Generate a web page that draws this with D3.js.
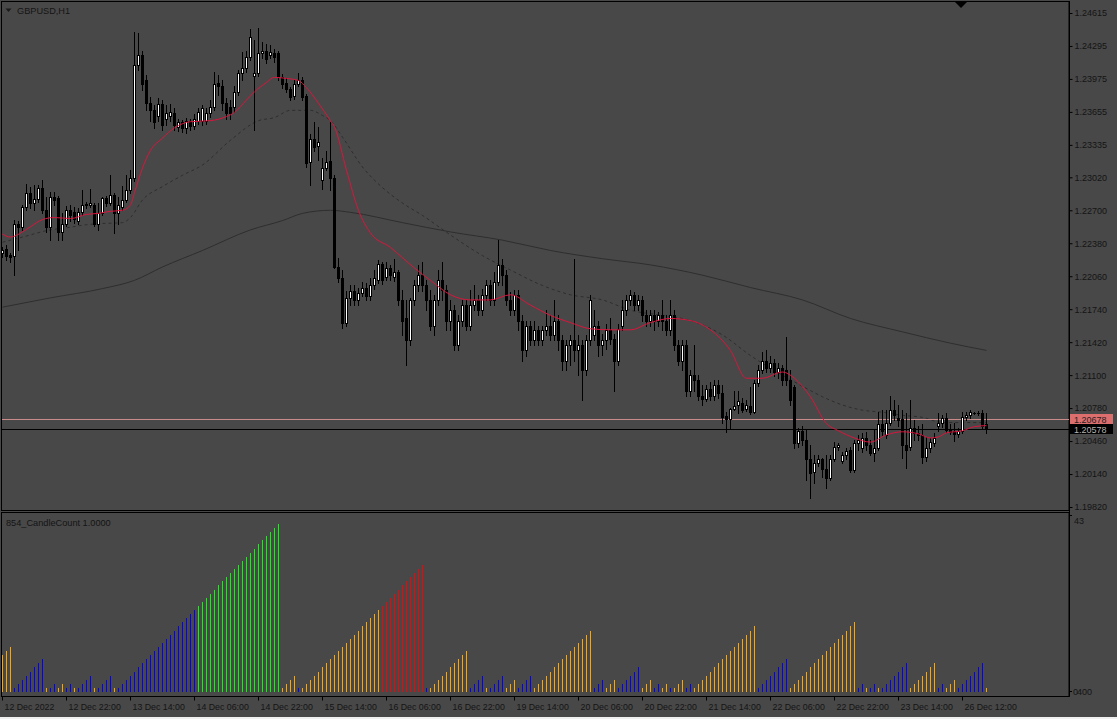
<!DOCTYPE html>
<html><head><meta charset="utf-8">
<script src="https://cdn.jsdelivr.net/npm/d3@7"></script>
<style>html,body{margin:0;padding:0;background:#484848;overflow:hidden}svg{display:block}</style>
</head><body>
<svg id="c" width="1117" height="719"></svg>
<script>
const symbolTitle = "GBPUSD,H1";
const indicatorTitle = "854_CandleCount 1.0000";
const priceTicks = [1.24615,1.24295,1.23975,1.23655,1.23335,1.23020,1.22700,1.22380,1.22060,1.21740,1.21420,1.21100,1.20780,1.20460,1.20140,1.19820];
const timeLabels = ["12 Dec 2022","12 Dec 22:00","13 Dec 14:00","14 Dec 06:00","14 Dec 22:00","15 Dec 14:00","16 Dec 06:00","16 Dec 22:00","19 Dec 14:00","20 Dec 06:00","20 Dec 22:00","21 Dec 14:00","22 Dec 06:00","22 Dec 22:00","23 Dec 14:00","26 Dec 12:00"];
const timeLabelBars = [0,16,32,48,64,80,96,112,128,144,160,176,192,208,224,240];
const bidPrice = 1.20578;
const markPrice = 1.20678;
const indicatorMax = 43;

// [open, high, low, close]
const candles = [
[1.2229,1.2234,1.2225,1.2231],[1.2232,1.2236,1.2222,1.2226],[1.2227,1.2229,1.2220,1.2225],[1.2226,1.2261,1.2207,1.2257],
[1.2257,1.2260,1.2231,1.2254],[1.2254,1.2275,1.2251,1.2273],[1.2273,1.2296,1.2270,1.2287],[1.2287,1.2293,1.2272,1.2277],
[1.2277,1.2295,1.2270,1.2281],[1.2281,1.2295,1.2278,1.2292],[1.2292,1.2299,1.2267,1.2270],[1.2270,1.2283,1.2249,1.2254],
[1.2254,1.2288,1.2241,1.2283],[1.2283,1.2288,1.2275,1.2280],[1.2282,1.2284,1.2241,1.2249],[1.2249,1.2267,1.2241,1.2257],
[1.2257,1.2274,1.2255,1.2270],[1.2270,1.2275,1.2260,1.2265],[1.2268,1.2273,1.2258,1.2262],[1.2260,1.2272,1.2257,1.2268],
[1.2268,1.2290,1.2265,1.2275],[1.2276,1.2278,1.2272,1.2275],[1.2275,1.2291,1.2273,1.2277],[1.2275,1.2277,1.2255,1.2257],
[1.2257,1.2277,1.2251,1.2267],[1.2267,1.2283,1.2265,1.2282],[1.2282,1.2284,1.2274,1.2277],[1.2277,1.2304,1.2275,1.2285],
[1.2285,1.2287,1.2248,1.2267],[1.2267,1.2283,1.2257,1.2275],[1.2273,1.2294,1.2270,1.2280],[1.2280,1.2304,1.2278,1.2290],
[1.2290,1.2309,1.2287,1.2301],[1.2301,1.2443,1.2298,1.2411],[1.2411,1.2442,1.2406,1.2421],[1.2421,1.2425,1.2387,1.2393],
[1.2396,1.2401,1.2367,1.2374],[1.2374,1.2380,1.2357,1.2367],[1.2367,1.2372,1.2350,1.2356],[1.2362,1.2379,1.2357,1.2373],
[1.2373,1.2377,1.2348,1.2353],[1.2359,1.2372,1.2353,1.2364],[1.2362,1.2373,1.2357,1.2365],[1.2364,1.2369,1.2348,1.2353],
[1.2351,1.2359,1.2347,1.2356],[1.2356,1.2358,1.2346,1.2350],[1.2350,1.2360,1.2345,1.2357],[1.2357,1.2359,1.2348,1.2352],
[1.2352,1.2363,1.2349,1.2359],[1.2357,1.2369,1.2354,1.2365],[1.2357,1.2372,1.2353,1.2369],[1.2357,1.2369,1.2354,1.2364],
[1.2364,1.2377,1.2361,1.2370],[1.2370,1.2404,1.2367,1.2393],[1.2394,1.2401,1.2382,1.2391],[1.2391,1.2396,1.2367,1.2374],
[1.2374,1.2379,1.2359,1.2364],[1.2370,1.2377,1.2359,1.2364],[1.2370,1.2391,1.2365,1.2385],[1.2385,1.2406,1.2382,1.2403],
[1.2403,1.2424,1.2396,1.2408],[1.2408,1.2425,1.2404,1.2419],[1.2419,1.2446,1.2416,1.2438],[1.2400,1.2435,1.2348,1.2403],
[1.2403,1.2447,1.2400,1.2423],[1.2423,1.2433,1.2418,1.2425],[1.2425,1.2431,1.2413,1.2417],[1.2421,1.2430,1.2418,1.2424],
[1.2423,1.2427,1.2414,1.2419],[1.2423,1.2425,1.2396,1.2399],[1.2399,1.2402,1.2389,1.2393],[1.2394,1.2398,1.2385,1.2388],
[1.2388,1.2390,1.2377,1.2380],[1.2381,1.2396,1.2378,1.2393],[1.2393,1.2403,1.2391,1.2396],[1.2396,1.2399,1.2377,1.2380],
[1.2381,1.2383,1.2312,1.2316],[1.2317,1.2344,1.2295,1.2339],[1.2339,1.2356,1.2328,1.2331],[1.2332,1.2351,1.2319,1.2336],
[1.2299,1.2321,1.2291,1.2311],[1.2311,1.2328,1.2309,1.2317],[1.2318,1.2356,1.2290,1.2301],[1.2301,1.2304,1.2214,1.2215],
[1.2215,1.2224,1.2200,1.2204],[1.2204,1.2212,1.2156,1.2161],[1.2161,1.2192,1.2158,1.2185],[1.2185,1.2197,1.2178,1.2192],
[1.2192,1.2197,1.2178,1.2183],[1.2183,1.2195,1.2178,1.2190],[1.2190,1.2200,1.2187,1.2195],[1.2195,1.2199,1.2183,1.2187],
[1.2187,1.2204,1.2183,1.2197],[1.2197,1.2212,1.2194,1.2204],[1.2202,1.2222,1.2199,1.2218],[1.2218,1.2220,1.2198,1.2202],
[1.2205,1.2220,1.2202,1.2214],[1.2214,1.2217,1.2202,1.2207],[1.2205,1.2223,1.2201,1.2210],[1.2210,1.2212,1.2178,1.2183],
[1.2183,1.2193,1.2149,1.2163],[1.2165,1.2183,1.2120,1.2144],[1.2144,1.2185,1.2139,1.2183],[1.2183,1.2202,1.2178,1.2197],
[1.2197,1.2217,1.2192,1.2207],[1.2207,1.2220,1.2192,1.2197],[1.2197,1.2202,1.2173,1.2183],[1.2183,1.2193,1.2154,1.2158],
[1.2158,1.2188,1.2149,1.2183],[1.2183,1.2212,1.2178,1.2202],[1.2202,1.2220,1.2183,1.2193],[1.2193,1.2197,1.2154,1.2163],
[1.2163,1.2183,1.2154,1.2173],[1.2173,1.2178,1.2134,1.2139],[1.2139,1.2168,1.2134,1.2163],[1.2163,1.2183,1.2158,1.2178],
[1.2178,1.2183,1.2154,1.2158],[1.2158,1.2193,1.2154,1.2178],[1.2178,1.2197,1.2173,1.2183],[1.2183,1.2188,1.2168,1.2173],
[1.2173,1.2194,1.2168,1.2188],[1.2188,1.2202,1.2183,1.2197],[1.2197,1.2202,1.2178,1.2183],[1.2183,1.2210,1.2178,1.2200],
[1.2200,1.2241,1.2197,1.2217],[1.2217,1.2223,1.2197,1.2207],[1.2207,1.2212,1.2178,1.2183],[1.2183,1.2191,1.2168,1.2173],
[1.2173,1.2193,1.2168,1.2188],[1.2188,1.2193,1.2154,1.2163],[1.2163,1.2168,1.2124,1.2134],[1.2134,1.2163,1.2129,1.2158],
[1.2158,1.2163,1.2139,1.2144],[1.2144,1.2163,1.2139,1.2154],[1.2154,1.2158,1.2139,1.2144],[1.2144,1.2158,1.2139,1.2154],
[1.2154,1.2173,1.2149,1.2158],[1.2158,1.2168,1.2144,1.2149],[1.2149,1.2183,1.2144,1.2163],[1.2163,1.2168,1.2134,1.2144],
[1.2144,1.2149,1.2115,1.2124],[1.2124,1.2144,1.2115,1.2139],[1.2139,1.2149,1.2120,1.2144],[1.2144,1.2223,1.2124,1.2134],
[1.2134,1.2149,1.2110,1.2139],[1.2139,1.2144,1.2086,1.2115],[1.2115,1.2149,1.2110,1.2144],[1.2144,1.2188,1.2139,1.2183],
[1.2149,1.2173,1.2144,1.2158],[1.2158,1.2163,1.2129,1.2139],[1.2139,1.2150,1.2130,1.2144],[1.2144,1.2160,1.2135,1.2154],
[1.2154,1.2165,1.2140,1.2145],[1.2145,1.2150,1.2095,1.2124],[1.2124,1.2160,1.2120,1.2155],[1.2158,1.2183,1.2154,1.2173],
[1.2173,1.2188,1.2168,1.2183],[1.2183,1.2193,1.2178,1.2188],[1.2188,1.2191,1.2173,1.2178],[1.2178,1.2188,1.2173,1.2183],
[1.2183,1.2187,1.2163,1.2168],[1.2168,1.2173,1.2158,1.2163],[1.2163,1.2173,1.2158,1.2168],[1.2168,1.2173,1.2154,1.2163],
[1.2163,1.2171,1.2158,1.2168],[1.2168,1.2183,1.2154,1.2163],[1.2163,1.2168,1.2149,1.2154],[1.2154,1.2183,1.2149,1.2168],
[1.2168,1.2173,1.2134,1.2139],[1.2139,1.2144,1.2120,1.2124],[1.2124,1.2144,1.2115,1.2139],[1.2139,1.2144,1.2090,1.2095],
[1.2095,1.2115,1.2090,1.2110],[1.2110,1.2139,1.2095,1.2105],[1.2105,1.2110,1.2086,1.2090],[1.2090,1.2100,1.2081,1.2087],
[1.2087,1.2100,1.2085,1.2097],[1.2097,1.2103,1.2086,1.2090],[1.2090,1.2105,1.2086,1.2100],[1.2100,1.2105,1.2088,1.2093],
[1.2093,1.2100,1.2064,1.2069],[1.2070,1.2074,1.2055,1.2067],[1.2067,1.2078,1.2058,1.2077],[1.2077,1.2095,1.2076,1.2080],
[1.2081,1.2095,1.2073,1.2085],[1.2083,1.2088,1.2074,1.2076],[1.2077,1.2086,1.2075,1.2081],[1.2080,1.2098,1.2072,1.2074],
[1.2074,1.2105,1.2073,1.2102],[1.2102,1.2120,1.2099,1.2115],[1.2115,1.2132,1.2112,1.2124],[1.2124,1.2134,1.2113,1.2117],
[1.2117,1.2129,1.2113,1.2122],[1.2122,1.2126,1.2109,1.2113],[1.2113,1.2122,1.2107,1.2117],[1.2117,1.2120,1.2100,1.2105],
[1.2115,1.2147,1.2100,1.2105],[1.2105,1.2115,1.2081,1.2086],[1.2098,1.2100,1.2039,1.2044],[1.2044,1.2059,1.2040,1.2056],
[1.2056,1.2061,1.2042,1.2047],[1.2047,1.2058,1.2008,1.2029],[1.2029,1.2042,1.1991,1.2015],[1.2016,1.2032,1.2005,1.2025],
[1.2025,1.2032,1.2022,1.2029],[1.2029,1.2030,1.2011,1.2019],[1.2019,1.2032,1.2000,1.2010],[1.2010,1.2032,1.2008,1.2029],
[1.2029,1.2045,1.2027,1.2040],[1.2040,1.2044,1.2037,1.2042],[1.2027,1.2035,1.2025,1.2032],[1.2032,1.2039,1.2029,1.2036],
[1.2037,1.2040,1.2016,1.2018],[1.2018,1.2047,1.2016,1.2044],[1.2044,1.2052,1.2037,1.2047],[1.2039,1.2054,1.2035,1.2049],
[1.2049,1.2055,1.2037,1.2042],[1.2042,1.2047,1.2032,1.2034],[1.2034,1.2057,1.2027,1.2039],[1.2039,1.2074,1.2037,1.2063],
[1.2063,1.2076,1.2052,1.2056],[1.2052,1.2076,1.2049,1.2064],[1.2064,1.2090,1.2062,1.2076],[1.2076,1.2086,1.2066,1.2071],
[1.2068,1.2081,1.2061,1.2066],[1.2067,1.2076,1.2030,1.2042],[1.2042,1.2073,1.2020,1.2037],[1.2040,1.2086,1.2037,1.2059],
[1.2059,1.2066,1.2047,1.2054],[1.2054,1.2061,1.2047,1.2052],[1.2052,1.2063,1.2025,1.2031],[1.2031,1.2050,1.2027,1.2039],
[1.2039,1.2049,1.2035,1.2045],[1.2044,1.2054,1.2041,1.2049],[1.2061,1.2073,1.2056,1.2064],[1.2064,1.2071,1.2060,1.2068],
[1.2068,1.2073,1.2055,1.2057],[1.2057,1.2063,1.2053,1.2055],[1.2056,1.2064,1.2046,1.2053],[1.2053,1.2059,1.2050,1.2056],
[1.2056,1.2074,1.2054,1.2069],[1.2069,1.2074,1.2066,1.2071],[1.2071,1.2076,1.2068,1.2074],[1.2073,1.2074,1.2072,1.2073],
[1.2073,1.2075,1.2071,1.2073],[1.2073,1.2076,1.2058,1.2061],[1.2063,1.2073,1.2054,1.2058]
];

// signed consecutive-candle count: + above average (blue/green), - below (orange/red)
const candleCount = [
-9,-10,-11,1,2,3,4,5,6,7,8,-1,1,2,-1,-2,1,2,-1,1,2,3,4,-1,1,2,3,4,-1,
1,2,3,4,5,6,7,8,9,10,11,12,13,14,15,16,17,18,19,20,21,22,23,24,25,26,27,28,29,30,31,32,33,34,35,36,37,38,39,40,41,
-1,-2,-3,-4,1,
-1,-2,-3,-4,-5,-6,-7,-8,-9,-10,-11,-12,-13,-14,-15,-16,-17,-18,-19,-20,-21,-22,-23,-24,-25,-26,-27,-28,-29,-30,-31,
1,-1,-2,-3,-4,-5,-6,-7,-8,-9,-10,1,2,3,4,-1,1,2,3,4,-1,-2,-3,1,2,3,4,
-1,-2,-3,-4,-5,-6,-7,-8,-9,-10,-11,-12,-13,-14,-15,1,2,3,-1,-2,-3,1,2,3,4,5,6,
-1,-2,-3,1,2,-1,-2,1,-1,-2,-3,1,2,
-1,-2,-3,-4,-5,-6,-7,-8,-9,-10,-11,-12,-13,-14,-15,-16,1,2,3,4,5,6,7,8,
-1,-2,-3,-4,-5,-6,-7,-8,-9,-10,-11,-12,-13,-14,-15,-16,-17,1,2,-1,1,2,-1,1,2,3,4,5,6,7,
-1,-2,-3,-4,-5,-6,-7,1,2,-1,-2,-3,1,2,3,4,5,6,7,-1
];

// moving averages: [bar index, price]
const maFast = [[0,1.2247],[2,1.2244],[5,1.2249],[7,1.2254],[10,1.2261],[13,1.2263],[17,1.2262],[21,1.2266],[24,1.2267],[27,1.2269],[30,1.2270],[32,1.2275],[33,1.2287],[35,1.2311],[37,1.2328],[40,1.2340],[43,1.2350],[47,1.2356],[52,1.2357],[56,1.2361],[58,1.2365],[61,1.2377],[63,1.2385],[66,1.2394],[68,1.2399],[71,1.2398],[74,1.2396],[76,1.2389],[79,1.2374],[82,1.2357],[83,1.2351],[86,1.2309],[89,1.2270],[92,1.2248],[97,1.2234],[100,1.2224],[103,1.2214],[107,1.2202],[112,1.2188],[117,1.2183],[122,1.2183],[127,1.2188],[132,1.2178],[137,1.2168],[142,1.2161],[147,1.2155],[152,1.2154],[157,1.2154],[162,1.2161],[167,1.2165],[172,1.2163],[177,1.2154],[182,1.2134],[186,1.2107],[190,1.2107],[195,1.2113],[198,1.2107],[202,1.2089],[206,1.2063],[209,1.2056],[213,1.2049],[217,1.2045],[221,1.2052],[225,1.2055],[229,1.2053],[232,1.2049],[234,1.2050],[236,1.2054],[240,1.2056],[243,1.2060],[246,1.2061]];
const maMid = [[0,1.2239],[5,1.2244],[12,1.2251],[16,1.2253],[21,1.2256],[24,1.2257],[30,1.2258],[32,1.2263],[35,1.2280],[40,1.2293],[45,1.2304],[50,1.2314],[57,1.2338],[64,1.2357],[68,1.2360],[72,1.2367],[75,1.2367],[77,1.2367],[80,1.2362],[82,1.2357],[85,1.2341],[90,1.2312],[95,1.2292],[100,1.2277],[105,1.2265],[112,1.2246],[120,1.2226],[127,1.2212],[135,1.2197],[142,1.2188],[150,1.2183],[157,1.2173],[165,1.2168],[172,1.2163],[180,1.2149],[187,1.2129],[195,1.2110],[202,1.2095],[205,1.2089],[210,1.2081],[215,1.2076],[220,1.2074],[225,1.2071],[230,1.2069],[235,1.2064],[246,1.2064]];
const maSlow = [[0,1.2176],[12,1.2185],[25,1.2194],[33,1.2202],[40,1.2215],[50,1.2231],[62,1.2251],[70,1.2260],[75,1.2267],[82,1.2270],[87,1.2268],[100,1.2258],[112,1.2249],[125,1.2241],[137,1.2231],[150,1.2223],[162,1.2217],[175,1.2207],[187,1.2195],[200,1.2183],[212,1.2165],[225,1.2152],[237,1.2141],[246,1.2134]];

const svg = d3.select("#c");
const W = 1117, H = 719;
const BG = "#484848", INK = "#141414";
const FONT = "'Liberation Sans', Arial, sans-serif";
const axisX = 1069;
const main = {top: 1.5, bottom: 510.5};
const ind = {top: 512.5, bottom: 696.5};

svg.append("rect").attr("width", W).attr("height", H).attr("fill", BG);

const x = d3.scaleLinear().domain([0, 246]).range([2, 986]);
const y = d3.scaleLinear().domain([1.19820, 1.24615]).range([507, 13]);
const yi = d3.scaleLinear().domain([0, indicatorMax]).range([692, 692 - indicatorMax * 4.1]);

svg.append("rect").attr("x", 1.5).attr("y", main.top).attr("width", axisX - 1.5).attr("height", main.bottom - main.top)
  .attr("fill", "none").attr("stroke", "#000").attr("stroke-width", 1);
svg.append("rect").attr("x", 1.5).attr("y", ind.top).attr("width", axisX - 1.5).attr("height", ind.bottom - ind.top)
  .attr("fill", "none").attr("stroke", "#000").attr("stroke-width", 1);
svg.append("line").attr("x1", axisX + 0.5).attr("x2", axisX + 0.5).attr("y1", 1).attr("y2", ind.bottom).attr("stroke", "#000");
svg.append("line").attr("x1", 1).attr("x2", axisX + 0.5).attr("y1", ind.bottom).attr("y2", ind.bottom).attr("stroke", "#000");

svg.append("clipPath").attr("id", "mc").append("rect").attr("x", 2).attr("y", 2).attr("width", axisX - 2).attr("height", main.bottom - 2.5);
const gMain = svg.append("g").attr("clip-path", "url(#mc)");

const line = d3.line().x(d => x(d[0]) + 0.5).y(d => y(d[1])).curve(d3.curveMonotoneX);
gMain.append("path").datum(maSlow).attr("d", line).attr("fill", "none").attr("stroke", "#2e2e2e").attr("stroke-width", 1);
gMain.append("path").datum(maMid).attr("d", line).attr("fill", "none").attr("stroke", "#2e2e2e").attr("stroke-width", 1).attr("stroke-dasharray", "3,3");

gMain.append("line").attr("x1", 2).attr("x2", axisX).attr("y1", Math.round(y(markPrice)) + 0.5).attr("y2", Math.round(y(markPrice)) + 0.5)
  .attr("stroke", "#c98a8a");
gMain.append("line").attr("x1", 2).attr("x2", axisX).attr("y1", Math.round(y(bidPrice)) + 0.5).attr("y2", Math.round(y(bidPrice)) + 0.5)
  .attr("stroke", "#000");

const gC = gMain.append("g").attr("shape-rendering", "crispEdges");
candles.forEach((c, i) => {
  const [o, h, l, cl] = c;
  const cx = Math.round(x(i));
  const yh = Math.round(y(h)), yl = Math.round(y(l));
  gC.append("rect").attr("x", cx).attr("y", yh).attr("width", 1).attr("height", Math.max(1, yl - yh + 1)).attr("fill", "#000");
  const top = Math.round(y(Math.max(o, cl))), bot = Math.round(y(Math.min(o, cl)));
  const hgt = Math.max(1, bot - top + 1);
  gC.append("rect").attr("x", cx - 1).attr("y", top).attr("width", 3).attr("height", hgt).attr("fill", "#000");
  if (cl > o && hgt > 2) {
    gC.append("rect").attr("x", cx).attr("y", top + 1).attr("width", 1).attr("height", hgt - 2).attr("fill", "#fff");
  }
});

gMain.append("path").datum(maFast).attr("d", line).attr("fill", "none").attr("stroke", "#dc143c").attr("stroke-width", 1);

const pAxis = d3.axisRight(y).tickValues(priceTicks).tickFormat(d3.format(".5f")).tickSize(3).tickPadding(2).tickSizeOuter(0);
const gP = svg.append("g").attr("transform", `translate(${axisX + 0.5},0)`).call(pAxis);
gP.select(".domain").remove();
gP.selectAll("line").attr("stroke", "#000");
gP.selectAll("text").attr("fill", INK).attr("font-family", FONT).attr("font-size", 9);

function priceBox(p, bg, fg) {
  const yy = Math.round(y(p));
  svg.append("rect").attr("x", axisX + 1).attr("y", yy - 5).attr("width", 43).attr("height", 10).attr("fill", bg);
  svg.append("text").attr("x", axisX + 5).attr("y", yy + 3.5).attr("fill", fg).attr("font-family", FONT).attr("font-size", 9)
    .text(d3.format(".5f")(p));
}
priceBox(markPrice, "#dc6e6e", "#2a2020");
priceBox(bidPrice, "#000", "#b4b4b4");

const gI = svg.append("g").attr("shape-rendering", "crispEdges");
candleCount.forEach((v, i) => {
  const n = Math.abs(v);
  const col = v > 0 ? (n >= 21 ? "#00ff00" : "#0000ff") : (n >= 21 ? "#ff0000" : "#ffa500");
  const yt = Math.round(yi(n));
  gI.append("rect").attr("x", Math.round(x(i))).attr("y", yt).attr("width", 1).attr("height", 692 - yt).attr("fill", col);
});

svg.append("line").attr("x1", axisX).attr("x2", axisX + 3).attr("y1", 515.5).attr("y2", 515.5).attr("stroke", "#000");
svg.append("line").attr("x1", axisX).attr("x2", axisX + 3).attr("y1", 691.5).attr("y2", 691.5).attr("stroke", "#000");
svg.append("text").attr("x", axisX + 5).attr("y", 523.5).attr("fill", INK).attr("font-family", FONT).attr("font-size", 9).text(indicatorMax);
svg.append("text").attr("x", axisX + 4).attr("y", 694.5).attr("fill", INK).attr("font-family", FONT).attr("font-size", 9).text("0");
svg.append("text").attr("x", axisX + 8).attr("y", 694.5).attr("fill", INK).attr("font-family", FONT).attr("font-size", 9).text("400");

const gT = svg.append("g");
timeLabelBars.forEach((b, k) => {
  const tx = Math.round(x(b)) + 0.5;
  gT.append("line").attr("x1", tx).attr("x2", tx).attr("y1", ind.bottom).attr("y2", ind.bottom + 4).attr("stroke", "#000");
  gT.append("text").attr("x", tx + 2).attr("y", 709.5).attr("fill", INK).attr("font-family", FONT).attr("font-size", 8.8).text(timeLabels[k]);
});

svg.append("path").attr("d", "M5.5,8.5 L11.5,8.5 L8.5,12 Z").attr("fill", "#1a1a1a");
svg.append("text").attr("x", 17).attr("y", 14).attr("fill", INK).attr("font-family", FONT).attr("font-size", 9.2).text(symbolTitle);
svg.append("text").attr("x", 6).attr("y", 525.5).attr("fill", INK).attr("font-family", FONT).attr("font-size", 9.2).text(indicatorTitle);
svg.append("path").attr("d", "M955,2 L967,2 L961,8 Z").attr("fill", "#000");
svg.append("rect").attr("x", 0).attr("y", 717).attr("width", W).attr("height", 2).attr("fill", "#f0f0f0");
</script>
</body></html>
